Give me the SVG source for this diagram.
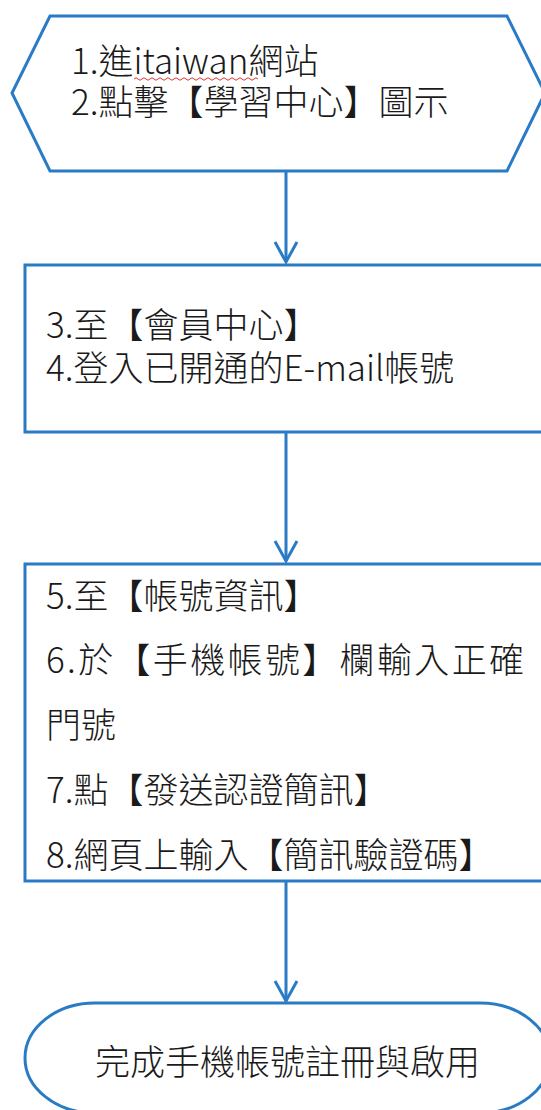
<svg xmlns="http://www.w3.org/2000/svg" width="541" height="1110" viewBox="0 0 541 1110">
<defs>
<style>
.shape{fill:#fff;stroke:#2a7bc6;stroke-width:3}
.conn{stroke:#2a7bc6;stroke-width:3;fill:none}
.t{font-family:"Noto Sans CJK TC","Microsoft JhengHei",sans-serif;font-size:35px;font-weight:300;fill:#1a1a1a}
</style>
</defs>
<rect width="541" height="1110" fill="#fff"/>
<g id="connectors">
<line class="conn" x1="286" y1="171" x2="286" y2="262"/>
<path class="conn" d="M275,242 L286,262 L297,242"/>
<line class="conn" x1="286" y1="432" x2="286" y2="561"/>
<path class="conn" d="M275,541 L286,561 L297,541"/>
<line class="conn" x1="286" y1="881" x2="286" y2="1001"/>
<path class="conn" d="M275,981 L286,1001 L297,981"/>
</g>
<g id="node1">
<path class="shape" d="M50,16 L507,16 L545,93 L507,171 L50,171 L12,93 Z"/>
<text class="t" x="71" y="74">1.進itaiwan網站</text>
<path d="M134,79 q2,-2.5 4,0 t4,0 t4,0 t4,0 t4,0 t4,0 t4,0 t4,0 t4,0 t4,0 t4,0 t4,0 t4,0 t4,0 t4,0 t4,0 t4,0 t4,0 t4,0 t4,0 t4,0 t4,0 t4,0 t4,0 t4,0 t4,0 t4,0 t4,0 t4,0 t4,0 t4,0" fill="none" stroke="#e03030" stroke-width="1"/>
<text class="t" x="71" y="115">2.點擊【學習中心】圖示</text>
</g>
<g id="node2">
<rect class="shape" x="25" y="265" width="530" height="167"/>
<text class="t" x="46" y="338">3.至【會員中心】</text>
<text class="t" x="46" y="381">4.登入已開通的E-mail帳號</text>
</g>
<g id="node3">
<rect class="shape" x="25" y="564" width="530" height="317"/>
<text class="t" x="46" y="609">5.至【帳號資訊】</text>
<text class="t" x="46" y="673" textLength="478" lengthAdjust="spacing">6.於【手機帳號】欄輸入正確</text>
<text class="t" x="46" y="738">門號</text>
<text class="t" x="46" y="803">7.點【發送認證簡訊】</text>
<text class="t" x="46" y="868">8.網頁上輸入【簡訊驗證碼】</text>
</g>
<g id="node4">
<path class="shape" d="M95,1003 L480,1003 A70,55 0 0 1 480,1113 L95,1113 A70,55 0 0 1 95,1003 Z"/>
<text class="t" x="95" y="1075">完成手機帳號註冊與啟用</text>
</g>
</svg>
